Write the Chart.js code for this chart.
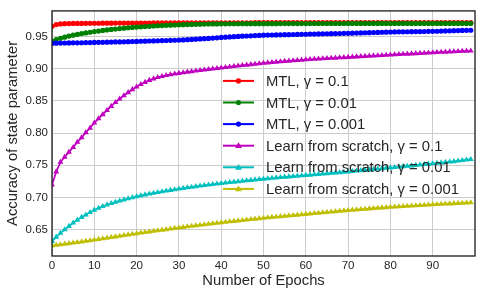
<!DOCTYPE html>
<html>
<head>
<meta charset="utf-8">
<script src="https://cdn.jsdelivr.net/npm/chart.js@4.4.0/dist/chart.umd.min.js"></script>
<style>
  html, body { margin: 0; padding: 0; background: #fff; }
  canvas { display: block; }
</style>
</head>
<body>
<canvas id="accChart" width="482" height="295"></canvas>
<script>
// series names, in plotting order
const seriesLabels = [
  'MTL, γ = 0.1',
  'MTL, γ = 0.01',
  'MTL, γ = 0.001',
  'Learn from scratch, γ = 0.1',
  'Learn from scratch, γ = 0.01',
  'Learn from scratch, γ = 0.001'
];

// accuracy per epoch (epochs 0..99)
const mtlG01 = [
  0.9660, 0.9688, 0.9697, 0.9701, 0.9703, 0.9705, 0.9706, 0.9706, 0.9707, 0.9707,
  0.9708, 0.9708, 0.9709, 0.9709, 0.9709, 0.9710, 0.9710, 0.9710, 0.9711, 0.9711,
  0.9711, 0.9712, 0.9712, 0.9712, 0.9713, 0.9713, 0.9713, 0.9713, 0.9714, 0.9714,
  0.9714, 0.9714, 0.9714, 0.9715, 0.9715, 0.9715, 0.9715, 0.9715, 0.9715, 0.9716,
  0.9716, 0.9716, 0.9716, 0.9716, 0.9716, 0.9716, 0.9716, 0.9716, 0.9717, 0.9717,
  0.9717, 0.9717, 0.9717, 0.9717, 0.9717, 0.9717, 0.9717, 0.9717, 0.9717, 0.9717,
  0.9717, 0.9717, 0.9717, 0.9717, 0.9717, 0.9717, 0.9717, 0.9718, 0.9718, 0.9718,
  0.9718, 0.9718, 0.9718, 0.9718, 0.9718, 0.9718, 0.9718, 0.9718, 0.9718, 0.9718,
  0.9718, 0.9718, 0.9718, 0.9718, 0.9718, 0.9718, 0.9718, 0.9718, 0.9718, 0.9718,
  0.9718, 0.9718, 0.9718, 0.9718, 0.9718, 0.9718, 0.9718, 0.9718, 0.9718, 0.9718
];
const mtlG001 = [
  0.9430, 0.9455, 0.9475, 0.9492, 0.9508, 0.9522, 0.9535, 0.9547, 0.9558, 0.9568,
  0.9578, 0.9587, 0.9596, 0.9604, 0.9612, 0.9619, 0.9626, 0.9632, 0.9638, 0.9643,
  0.9648, 0.9653, 0.9657, 0.9661, 0.9665, 0.9669, 0.9672, 0.9675, 0.9678, 0.9681,
  0.9684, 0.9686, 0.9688, 0.9690, 0.9692, 0.9694, 0.9695, 0.9696, 0.9697, 0.9698,
  0.9699, 0.9699, 0.9700, 0.9700, 0.9700, 0.9701, 0.9701, 0.9701, 0.9701, 0.9702,
  0.9702, 0.9702, 0.9702, 0.9702, 0.9703, 0.9703, 0.9703, 0.9703, 0.9703, 0.9703,
  0.9703, 0.9704, 0.9704, 0.9704, 0.9704, 0.9704, 0.9704, 0.9704, 0.9704, 0.9704,
  0.9705, 0.9705, 0.9705, 0.9705, 0.9705, 0.9705, 0.9705, 0.9705, 0.9705, 0.9705,
  0.9705, 0.9705, 0.9705, 0.9705, 0.9705, 0.9705, 0.9705, 0.9705, 0.9705, 0.9705,
  0.9705, 0.9705, 0.9705, 0.9705, 0.9705, 0.9705, 0.9705, 0.9705, 0.9705, 0.9705
];
const mtlG0001 = [
  0.9395, 0.9398, 0.9400, 0.9401, 0.9402, 0.9403, 0.9404, 0.9405, 0.9407, 0.9408,
  0.9410, 0.9411, 0.9412, 0.9414, 0.9415, 0.9417, 0.9418, 0.9420, 0.9422, 0.9424,
  0.9426, 0.9428, 0.9430, 0.9432, 0.9434, 0.9436, 0.9438, 0.9440, 0.9442, 0.9444,
  0.9446, 0.9449, 0.9452, 0.9456, 0.9460, 0.9464, 0.9468, 0.9472, 0.9477, 0.9482,
  0.9487, 0.9491, 0.9495, 0.9499, 0.9503, 0.9507, 0.9510, 0.9513, 0.9516, 0.9519,
  0.9522, 0.9524, 0.9525, 0.9527, 0.9528, 0.9530, 0.9531, 0.9533, 0.9534, 0.9536,
  0.9537, 0.9539, 0.9540, 0.9542, 0.9543, 0.9545, 0.9546, 0.9548, 0.9549, 0.9551,
  0.9552, 0.9554, 0.9556, 0.9558, 0.9560, 0.9562, 0.9564, 0.9566, 0.9568, 0.9570,
  0.9572, 0.9573, 0.9574, 0.9575, 0.9576, 0.9577, 0.9578, 0.9579, 0.9580, 0.9582,
  0.9583, 0.9584, 0.9586, 0.9588, 0.9590, 0.9592, 0.9594, 0.9596, 0.9598, 0.9599
];
const scratchG01 = [
  0.7195, 0.7400, 0.7550, 0.7630, 0.7705, 0.7780, 0.7860, 0.7930, 0.8010, 0.8080,
  0.8160, 0.8225, 0.8290, 0.8355, 0.8418, 0.8478, 0.8532, 0.8583, 0.8632, 0.8678,
  0.8720, 0.8758, 0.8792, 0.8822, 0.8846, 0.8866, 0.8883, 0.8898, 0.8910, 0.8921,
  0.8931, 0.8941, 0.8950, 0.8959, 0.8967, 0.8975, 0.8983, 0.8991, 0.8999, 0.9007,
  0.9015, 0.9023, 0.9031, 0.9038, 0.9046, 0.9053, 0.9060, 0.9067, 0.9074, 0.9081,
  0.9088, 0.9094, 0.9100, 0.9106, 0.9111, 0.9117, 0.9122, 0.9127, 0.9132, 0.9137,
  0.9142, 0.9146, 0.9150, 0.9154, 0.9158, 0.9162, 0.9166, 0.9169, 0.9173, 0.9176,
  0.9180, 0.9184, 0.9188, 0.9191, 0.9195, 0.9199, 0.9203, 0.9206, 0.9210, 0.9213,
  0.9217, 0.9221, 0.9224, 0.9228, 0.9231, 0.9235, 0.9238, 0.9242, 0.9245, 0.9249,
  0.9252, 0.9255, 0.9259, 0.9262, 0.9265, 0.9268, 0.9271, 0.9274, 0.9277, 0.9280
];
const scratchG001 = [
  0.6320, 0.6385, 0.6445, 0.6500, 0.6553, 0.6605, 0.6650, 0.6692, 0.6730, 0.6768,
  0.6805, 0.6835, 0.6862, 0.6887, 0.6908, 0.6928, 0.6947, 0.6965, 0.6983, 0.6999,
  0.7015, 0.7029, 0.7042, 0.7055, 0.7068, 0.7080, 0.7091, 0.7102, 0.7113, 0.7123,
  0.7133, 0.7143, 0.7153, 0.7162, 0.7171, 0.7180, 0.7188, 0.7196, 0.7204, 0.7212,
  0.7220, 0.7227, 0.7234, 0.7241, 0.7248, 0.7255, 0.7262, 0.7268, 0.7275, 0.7281,
  0.7288, 0.7294, 0.7300, 0.7306, 0.7312, 0.7318, 0.7323, 0.7329, 0.7334, 0.7340,
  0.7345, 0.7350, 0.7356, 0.7361, 0.7367, 0.7372, 0.7378, 0.7383, 0.7389, 0.7394,
  0.7400, 0.7406, 0.7413, 0.7419, 0.7425, 0.7431, 0.7437, 0.7444, 0.7450, 0.7456,
  0.7462, 0.7469, 0.7475, 0.7482, 0.7488, 0.7494, 0.7501, 0.7507, 0.7514, 0.7520,
  0.7527, 0.7533, 0.7540, 0.7547, 0.7553, 0.7560, 0.7568, 0.7576, 0.7584, 0.7592
];
const scratchG0001 = [
  0.6252, 0.6260, 0.6268, 0.6277, 0.6285, 0.6294, 0.6303, 0.6312, 0.6321, 0.6330,
  0.6340, 0.6350, 0.6360, 0.6370, 0.6380, 0.6390, 0.6400, 0.6410, 0.6420, 0.6430,
  0.6440, 0.6449, 0.6458, 0.6467, 0.6476, 0.6485, 0.6494, 0.6503, 0.6512, 0.6521,
  0.6530, 0.6538, 0.6546, 0.6554, 0.6562, 0.6570, 0.6578, 0.6586, 0.6594, 0.6602,
  0.6610, 0.6617, 0.6624, 0.6631, 0.6638, 0.6645, 0.6652, 0.6659, 0.6666, 0.6673,
  0.6680, 0.6686, 0.6692, 0.6698, 0.6704, 0.6710, 0.6716, 0.6722, 0.6728, 0.6734,
  0.6740, 0.6746, 0.6752, 0.6758, 0.6764, 0.6770, 0.6776, 0.6782, 0.6788, 0.6794,
  0.6800, 0.6805, 0.6810, 0.6815, 0.6820, 0.6825, 0.6830, 0.6835, 0.6840, 0.6845,
  0.6850, 0.6854, 0.6858, 0.6862, 0.6866, 0.6870, 0.6874, 0.6878, 0.6882, 0.6886,
  0.6890, 0.6893, 0.6897, 0.6900, 0.6903, 0.6906, 0.6910, 0.6913, 0.6917, 0.6920
];

const xTicks = [0, 10, 20, 30, 40, 50, 60, 70, 80, 90];
const yTicks = [0.65, 0.70, 0.75, 0.80, 0.85, 0.90, 0.95];

const seriesValues = [mtlG01, mtlG001, mtlG0001, scratchG01, scratchG001, scratchG0001];
const seriesColors = ['#ff0000', '#008000', '#0000ff', '#bf00bf', '#00bfbf', '#bfbf00'];
const seriesMarkers = ['circle', 'circle', 'circle', 'triangle', 'triangle', 'triangle'];

const FONT = "'Liberation Sans', Arial, sans-serif";
const TEXT_COLOR = '#262626';

function markerPath(ctx, style, x, y, r) {
  ctx.beginPath();
  if (style === 'triangle') {
    ctx.moveTo(x, y - r);
    ctx.lineTo(x + r, y + r * 0.7);
    ctx.lineTo(x - r, y + r * 0.7);
    ctx.closePath();
  } else {
    ctx.arc(x, y, r, 0, Math.PI * 2);
  }
}

// matplotlib style legend with no frame, drawn over the lines
const innerLegend = {
  id: 'innerLegend',
  afterDatasetsDraw(chart) {
    const { ctx, chartArea } = chart;
    const x0 = chartArea.left + 171;
    const y0 = chartArea.top + 70;
    ctx.save();
    chart.data.datasets.forEach((ds, i) => {
      const y = y0 + i * 21.6;
      ctx.strokeStyle = ds.borderColor;
      ctx.lineWidth = 2;
      ctx.beginPath();
      ctx.moveTo(x0, y);
      ctx.lineTo(x0 + 31, y);
      ctx.stroke();
      ctx.fillStyle = ds.borderColor;
      markerPath(ctx, ds.pointStyle, x0 + 15.5, y, ds.pointRadius);
      ctx.fill();
      ctx.fillStyle = TEXT_COLOR;
      ctx.font = '14.8px ' + FONT;
      ctx.textAlign = 'left';
      ctx.textBaseline = 'middle';
      ctx.fillText(ds.label, x0 + 43, y + 1);
    });
    ctx.restore();
  }
};

const frameBox = {
  id: 'frameBox',
  afterDraw(chart) {
    const { ctx, chartArea: a } = chart;
    ctx.save();
    ctx.strokeStyle = '#1a1a1a';
    ctx.lineWidth = 1.3;
    ctx.strokeRect(a.left, a.top, a.right - a.left, a.bottom - a.top);
    ctx.restore();
  }
};

new Chart(document.getElementById('accChart').getContext('2d'), {
  type: 'line',
  data: {
    datasets: seriesValues.map((vals, i) => ({
      label: seriesLabels[i],
      data: vals.map((v, k) => ({ x: k, y: v })),
      borderColor: seriesColors[i],
      backgroundColor: seriesColors[i],
      pointBackgroundColor: seriesColors[i],
      pointBorderWidth: 0,
      pointStyle: seriesMarkers[i],
      pointRadius: seriesMarkers[i] === 'triangle' ? 3.4 : 2.6,
      borderWidth: 1.7,
      tension: 0,
      fill: false,
      order: seriesValues.length - i
    }))
  },
  options: {
    responsive: false,
    animation: false,
    devicePixelRatio: 1,
    layout: { padding: { left: 0, right: 7, top: 7, bottom: 0 } },
    plugins: {
      legend: { display: false },
      tooltip: { enabled: false }
    },
    scales: {
      x: {
        type: 'linear',
        min: 0,
        max: 100,
        afterBuildTicks: s => { s.ticks = xTicks.map(v => ({ value: v })); },
        afterFit: s => { s.height = 39; },
        grid: { color: '#cccccc', lineWidth: 1, drawTicks: false },
        border: { display: false },
        ticks: {
          autoSkip: false,
          maxRotation: 0,
          padding: 3,
          color: TEXT_COLOR,
          font: { family: FONT, size: 11.5 }
        },
        title: {
          display: true,
          text: 'Number of Epochs',
          color: TEXT_COLOR,
          font: { family: FONT, size: 14.8 },
          padding: { top: 0, bottom: 5 }
        }
      },
      y: {
        min: 0.609,
        max: 0.990,
        afterBuildTicks: s => { s.ticks = yTicks.map(v => ({ value: v })); },
        afterFit: s => { s.width = 52; },
        grid: { color: '#cccccc', lineWidth: 1, drawTicks: false },
        border: { display: false },
        ticks: {
          padding: 4,
          color: TEXT_COLOR,
          font: { family: FONT, size: 11.5 },
          callback: v => v.toFixed(2)
        },
        title: {
          display: true,
          text: 'Accuracy of state parameter',
          color: TEXT_COLOR,
          font: { family: FONT, size: 14.8 },
          padding: { top: 4, bottom: 0 }
        }
      }
    }
  },
  plugins: [innerLegend, frameBox]
});
</script>
</body>
</html>
